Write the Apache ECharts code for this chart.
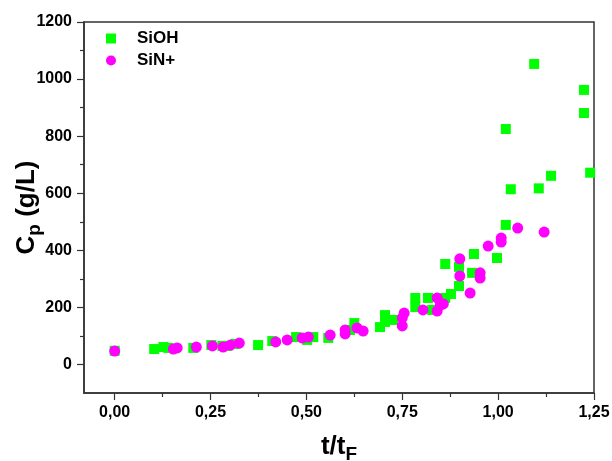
<!DOCTYPE html>
<html>
<head>
<meta charset="utf-8">
<script src="https://cdn.jsdelivr.net/npm/echarts@6/dist/echarts.min.js"></script>
<style>html,body{margin:0;padding:0;background:#fff;}#c{width:612px;height:461px;}</style>
</head>
<body>
<div id="c"></div>
<script>
// ---- data ----
const siohX = [0, 0.103, 0.127, 0.14, 0.205, 0.252, 0.281, 0.294, 0.315, 0.374, 0.411, 0.473, 0.502, 0.518, 0.557, 0.614, 0.625, 0.692, 0.705, 0.705, 0.726, 0.784, 0.784, 0.817, 0.828, 0.862, 0.862, 0.877, 0.898, 0.898, 0.932, 0.937, 0.997, 1.02, 1.02, 1.033, 1.094, 1.106, 1.138, 1.224, 1.224, 1.24];
const siohY = [48, 54, 61, 58, 58, 68, 65, 65, 72, 68, 82, 96, 86, 96, 93, 121, 145, 131, 149, 173, 156, 233, 201, 233, 191, 233, 352, 247, 342, 275, 321, 387, 373, 489, 825, 614, 1053, 617, 661, 962, 881, 672];
const sinX = [0, 0.153, 0.163, 0.213, 0.255, 0.283, 0.302, 0.325, 0.42, 0.45, 0.489, 0.505, 0.562, 0.601, 0.601, 0.632, 0.648, 0.75, 0.75, 0.755, 0.804, 0.841, 0.841, 0.849, 0.857, 0.90, 0.90, 0.927, 0.953, 0.953, 0.974, 1.008, 1.008, 1.051, 1.12];
const sinY = [47, 54, 58, 61, 65, 61, 68, 75, 79, 86, 93, 96, 103, 121, 107, 128, 117, 163, 135, 180, 191, 187, 233, 208, 212, 370, 310, 250, 321, 303, 415, 443, 429, 478, 464];
const seriesNames = ['SiOH', 'SiN+'];
const xTicks = [0, 0.25, 0.5, 0.75, 1.0, 1.25];
const xMinorTicks = [0.125, 0.375, 0.625, 0.875, 1.125];
const yTicks = [0, 200, 400, 600, 800, 1000, 1200];
const yMinorTicks = [100, 300, 500, 700, 900, 1100];
const xRange = [-0.08, 1.25];
const yRange = [-100, 1200];

const pair = (xs, ys) => xs.map((x, i) => [x, ys[i]]);
const FONT = 'Liberation Sans, Arial, sans-serif';
const AX = '#333';

const chart = echarts.init(document.getElementById('c'), null, {renderer: 'canvas'});
const labelStyle = {fontFamily: FONT, fontWeight: 'bold', fontSize: 16, color: '#000'};
chart.setOption({
  animation: false,
  backgroundColor: '#fff',
  grid: {left: 84, right: 18, top: 22, bottom: 68, show: true, borderColor: AX, borderWidth: 1.5,
    backgroundColor: 'transparent', containLabel: false, outerBoundsMode: 'none'},
  legend: {
    data: seriesNames, orient: 'vertical', left: 101, top: 25, itemWidth: 10, itemHeight: 10, itemGap: 5,
    textStyle: {fontFamily: FONT, fontWeight: 'bold', fontSize: 17, color: '#000', padding: [0, 0, 0, 16]}
  },
  xAxis: [{
    type: 'value', min: xRange[0], max: xRange[1], position: 'bottom',
    name: '{a|t/t}{b|F}', nameLocation: 'middle', nameGap: 36, nameMoveOverlap: false,
    nameTextStyle: {rich: {
      a: {fontFamily: FONT, fontWeight: 'bold', fontSize: 26, color: '#000'},
      b: {fontFamily: FONT, fontWeight: 'bold', fontSize: 19, color: '#000', padding: [16, 0, 0, 0]}
    }},
    axisLine: {show: true, onZero: false, lineStyle: {color: AX, width: 1.5}},
    axisTick: {show: true, inside: false, length: 7, customValues: xTicks, lineStyle: {color: AX, width: 1.2}},
    axisLabel: {show: true, customValues: xTicks, margin: 12, ...labelStyle,
      formatter: v => v.toFixed(2).replace('.', ',')},
    splitLine: {show: false}
  }, {
    type: 'value', min: xRange[0], max: xRange[1], position: 'bottom',
    axisLine: {show: false, onZero: false},
    axisTick: {show: true, inside: false, length: 4, customValues: xMinorTicks, lineStyle: {color: AX, width: 1.2}},
    axisLabel: {show: false},
    splitLine: {show: false}
  }],
  yAxis: [{
    type: 'value', min: yRange[0], max: yRange[1], position: 'left',
    name: '{a|C}{b|p}{a| (g/L)}', nameLocation: 'middle', nameGap: 40, nameMoveOverlap: false,
    nameTextStyle: {rich: {
      a: {fontFamily: FONT, fontWeight: 'bold', fontSize: 26, color: '#000'},
      b: {fontFamily: FONT, fontWeight: 'bold', fontSize: 19, color: '#000', padding: [16, 0, 0, 0]}
    }},
    axisLine: {show: true, onZero: false, lineStyle: {color: AX, width: 1.5}},
    axisTick: {show: true, inside: false, length: 7, customValues: yTicks, lineStyle: {color: AX, width: 1.2}},
    axisLabel: {show: true, customValues: yTicks, margin: 12, ...labelStyle, formatter: v => String(v)},
    splitLine: {show: false}
  }, {
    type: 'value', min: yRange[0], max: yRange[1], position: 'left',
    axisLine: {show: false, onZero: false},
    axisTick: {show: true, inside: false, length: 4, customValues: yMinorTicks, lineStyle: {color: AX, width: 1.2}},
    axisLabel: {show: false},
    splitLine: {show: false}
  }],
  series: [{
    name: seriesNames[0], type: 'scatter', symbol: 'rect', symbolSize: 10,
    itemStyle: {color: '#00ff00', opacity: 1},
    data: pair(siohX, siohY), xAxisIndex: 0, yAxisIndex: 0, z: 2
  }, {
    name: seriesNames[1], type: 'scatter', symbol: 'circle', symbolSize: 11,
    itemStyle: {color: '#ff00ff', opacity: 1},
    data: pair(sinX, sinY), xAxisIndex: 0, yAxisIndex: 0, z: 3
  }]
});
</script>
</body>
</html>
